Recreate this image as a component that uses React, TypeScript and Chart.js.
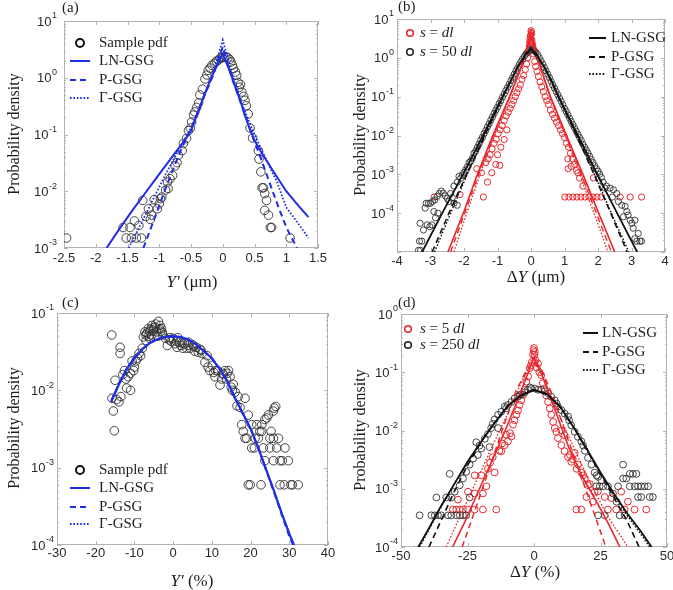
import React, { useEffect, useRef } from "react";
import { Chart, registerables } from "chart.js";

Chart.register(...registerables);

type Pt = [number, number];
type Part = { t: string; i?: boolean };

// ---------- (a) sample pdf of Y' (µm) and fitted GSG models ----------
const aSample: Pt[] = [
  [-2.46, 1.5e-3], [-1.57, 2.3e-3], [-1.52, 1.5e-3], [-1.46, 2.3e-3], [-1.44, 1.5e-3],
  [-1.39, 3.0e-3], [-1.36, 1.5e-3], [-1.32, 2.5e-3], [-1.28, 1.5e-3], [-1.26, 6.9e-3],
  [-1.21, 3.6e-3], [-1.17, 4.9e-3], [-1.14, 3.2e-3], [-1.12, 3.8e-3], [-1.08, 7.1e-3],
  [-1.03, 4.9e-3], [-1.0, 6.0e-3], [-0.98, 7.4e-3], [-0.96, 7.9e-3], [-0.9, 1.05e-2],
  [-0.87, 1.45e-2], [-0.86, 1.12e-2], [-0.83, 1.66e-2], [-0.79, 1.9e-2], [-0.75, 2.8e-2],
  [-0.72, 3.2e-2], [-0.7, 4.3e-2], [-0.64, 5.2e-2], [-0.62, 6.9e-2], [-0.57, 8.5e-2],
  [-0.54, 0.117], [-0.51, 0.13], [-0.49, 0.166], [-0.46, 0.22], [-0.44, 0.25],
  [-0.41, 0.3], [-0.38, 0.36], [-0.36, 0.5], [-0.32, 0.63], [-0.28, 0.95],
  [-0.25, 1.12], [-0.23, 1.35], [-0.2, 1.48], [-0.17, 1.66], [-0.13, 1.8],
  [-0.1, 1.95], [-0.07, 2.05], [-0.04, 2.2], [-0.01, 2.25], [0.02, 2.3],
  [0.05, 2.35], [0.08, 2.25], [0.11, 2.1], [0.13, 1.9], [0.15, 1.66],
  [0.17, 1.45], [0.2, 1.26], [0.22, 1.1], [0.24, 0.83], [0.26, 0.68],
  [0.28, 0.76], [0.3, 0.56], [0.33, 0.47], [0.35, 0.4], [0.37, 0.32],
  [0.4, 0.23], [0.43, 0.13], [0.47, 0.087], [0.56, 0.052], [0.57, 0.037],
  [0.6, 0.022], [0.62, 0.0115], [0.64, 0.0115], [0.66, 0.0091], [0.69, 0.0069],
  [0.66, 0.0046], [0.72, 0.0038], [0.75, 0.0023], [0.77, 0.0023], [1.06, 0.0015],
];
const aLN: Pt[] = [
  [-1.83, 1.0e-3], [-1.6, 2.4e-3], [-1.4, 5.0e-3], [-1.2, 1.0e-2], [-1.0, 2.0e-2],
  [-0.8, 4.0e-2], [-0.6, 7.9e-2], [-0.5, 0.117], [-0.4, 0.23], [-0.3, 0.47],
  [-0.2, 0.89], [-0.1, 1.58], [0, 2.6], [0.1, 1.4], [0.2, 0.69], [0.3, 0.33],
  [0.4, 0.15], [0.5, 0.079], [0.6, 0.05], [0.8, 0.022], [1.0, 0.01], [1.2, 5.4e-3],
  [1.35, 3.5e-3],
];
const aP: Pt[] = [
  [-1.25, 1.0e-3], [-1.1, 2.8e-3], [-0.95, 7.9e-3], [-0.8, 0.022], [-0.65, 0.056],
  [-0.5, 0.126], [-0.3, 0.45], [-0.15, 1.12], [0, 3.5], [0.15, 0.95], [0.3, 0.32],
  [0.45, 0.105], [0.6, 0.038], [0.77, 0.0112], [0.9, 4.5e-3], [1.01, 2.2e-3],
  [1.17, 1.0e-3],
];
const aG: Pt[] = [
  [-1.48, 1.0e-3], [-1.3, 2.5e-3], [-1.1, 7.1e-3], [-0.9, 0.02], [-0.7, 0.052],
  [-0.5, 0.13], [-0.3, 0.45], [-0.15, 1.2], [0, 4.6], [0.15, 1.12], [0.3, 0.35],
  [0.5, 0.1], [0.7, 0.033], [0.85, 0.015], [1.0, 5.2e-3], [1.2, 2.6e-3], [1.35, 1.5e-3],
];
const aXTicks = [-2.5, -2, -1.5, -1, -0.5, 0, 0.5, 1, 1.5];
const aXLabels = ["-2.5", "-2", "-1.5", "-1", "-0.5", "0", "0.5", "1", "1.5"];

// ---------- (b) increments ΔY (µm), s = dl (red) and s = 50 dl (black) ----------
const bRedSample: Pt[] = [
  [0, 5.0], [0.01, 4.6], [0.02, 4.2], [-0.01, 3.9], [-0.02, 3.5], [0.0, 3.2], [-0.03, 3.0],
  [0.03, 2.8], [-0.04, 2.5], [0.04, 2.3], [0.05, 2.0], [-0.05, 2.0], [0.06, 1.8],
  [-0.06, 1.58], [0.08, 1.26], [-0.1, 1.0], [0.11, 0.8], [-0.13, 0.7], [0.14, 0.6],
  [-0.17, 0.5], [0.18, 0.45], [-0.22, 0.35], [0.22, 0.33], [-0.27, 0.28], [0.27, 0.24],
  [-0.32, 0.2], [0.32, 0.18], [-0.37, 0.16], [0.37, 0.135], [-0.42, 0.126], [0.42, 0.1],
  [-0.47, 0.1], [0.47, 0.079], [-0.52, 0.079], [0.52, 0.063], [-0.57, 0.063], [0.58, 0.045],
  [-0.62, 0.05], [0.64, 0.035], [-0.68, 0.04], [0.7, 0.028], [-0.74, 0.032], [0.76, 0.022],
  [-0.8, 0.024], [0.82, 0.018], [-0.86, 0.018], [0.88, 0.014], [-0.92, 0.014], [0.94, 0.0112],
  [-0.98, 0.0112], [1.0, 0.0089], [-1.04, 0.0079], [1.06, 0.0063], [-1.1, 0.0063],
  [1.12, 0.005], [-1.16, 0.0045], [1.18, 0.0035], [-1.22, 0.0032], [1.24, 0.0025],
  [-1.28, 0.0025], [1.3, 0.0018], [1.36, 0.00126], [1.1, 0.0025], [1.11, 0.0014],
  [-0.72, 0.014], [-0.8, 0.0079], [-0.9, 0.005], [-1.0, 0.0032], [-1.05, 0.0018],
  [-1.17, 0.0011], [-1.3, 6.3e-4], [-1.35, 0.002], [-1.48, 0.0011], [-1.62, 0.0014],
  [-0.93, 0.0017], [-1.42, 2.6e-4], [-2.12, 3.0e-4], [-2.89, 2.6e-4],
  [1.45, 8.0e-4], [1.55, 5.0e-4], [1.86, 8.1e-4], [1.2, 0.0016], [1.4, 0.0011],
  [1.01, 2.6e-4], [1.13, 2.6e-4], [1.25, 2.6e-4], [1.37, 2.6e-4], [1.49, 2.6e-4],
  [1.61, 2.6e-4], [1.73, 2.6e-4], [1.85, 2.6e-4], [1.97, 2.6e-4], [2.09, 2.6e-4],
  [2.66, 2.6e-4], [2.96, 2.6e-4], [3.3, 2.6e-4],
];
const bBlackSample: Pt[] = [
  [-2.3, 5.0e-4], [-2.2, 6.3e-4], [-2.1, 7.9e-4], [-2.0, 1.12e-3], [-1.9, 1.58e-3],
  [-1.8, 2.2e-3], [-1.7, 3.5e-3], [-1.6, 5.0e-3], [-1.5, 7.6e-3], [-1.4, 0.0112],
  [-1.3, 0.0166], [-1.2, 0.025], [-1.1, 0.037], [-1.0, 0.054], [-0.9, 0.079],
  [-0.8, 0.117], [-0.7, 0.174], [-0.6, 0.26], [-0.5, 0.38], [-0.4, 0.55], [-0.3, 0.79],
  [-0.2, 1.1], [-0.1, 1.41], [0, 1.62], [0.1, 1.51], [0.2, 1.2], [0.3, 0.83], [0.4, 0.56],
  [0.5, 0.38], [0.6, 0.25], [0.7, 0.166], [0.8, 0.112], [0.9, 0.076], [1.0, 0.05],
  [1.1, 0.034], [1.2, 0.023], [1.3, 0.0158], [1.4, 0.0107], [1.5, 0.0074], [1.6, 0.005],
  [1.7, 0.0035], [1.8, 0.0024], [1.9, 0.00166], [2.0, 0.0012], [2.1, 8.3e-4],
  [-2.15, 8.9e-4], [-2.05, 9.5e-4], [-1.95, 1.3e-3], [-1.85, 2.0e-3], [-1.75, 2.6e-3],
  [-1.65, 4.0e-3], [-1.55, 6.0e-3], [-1.45, 9.0e-3], [-1.35, 0.0135], [-1.25, 0.02],
  [-1.15, 0.03], [-1.05, 0.045], [-0.95, 0.066], [-0.85, 0.097], [-0.75, 0.145],
  [-0.65, 0.21], [-0.55, 0.31], [-0.45, 0.46], [-0.35, 0.66], [-0.25, 0.93], [-0.15, 1.26],
  [-0.05, 1.55], [0.05, 1.6], [0.15, 1.38], [0.25, 1.0], [0.35, 0.69], [0.45, 0.46],
  [0.55, 0.31], [0.65, 0.2], [0.75, 0.135], [0.85, 0.092], [0.95, 0.062], [1.05, 0.042],
  [1.15, 0.028], [1.25, 0.019], [1.35, 0.013], [1.45, 0.0089], [1.55, 0.006],
  [1.65, 0.0042], [1.75, 0.0029], [1.85, 0.002], [1.95, 0.0014], [2.05, 0.001],
  [-3.36, 1.1e-5], [-3.3, 1.1e-5], [-3.26, 1.9e-5], [-3.33, 1.9e-5], [-3.31, 5.5e-5],
  [-3.21, 3.7e-5], [-3.16, 1.35e-4], [-3.1, 5.0e-5], [-3.13, 1.8e-4], [-3.06, 1.8e-4],
  [-3.02, 4.5e-5], [-3.0, 1.8e-4], [-2.96, 5.0e-5], [-2.94, 2.0e-4], [-2.87, 2.2e-4],
  [-2.8, 2.7e-4], [-2.74, 3.2e-4], [-2.68, 3.7e-4], [-2.62, 3.3e-4], [-2.56, 2.8e-4],
  [-2.5, 2.4e-4], [-2.45, 2.0e-4], [-2.4, 3.2e-4], [-2.35, 2.5e-4], [-2.3, 1.8e-4],
  [-2.2, 1.6e-4], [-2.78, 1.0e-4], [-2.9, 1.1e-4], [-2.85, 7.6e-5],
  [2.15, 6.3e-4], [2.25, 5.0e-4], [2.21, 4.4e-4], [2.36, 4.4e-4], [2.46, 4.0e-4],
  [2.56, 3.2e-4], [2.43, 2.6e-4], [2.61, 2.0e-4], [2.71, 1.6e-4], [2.81, 1.5e-4],
  [2.86, 1.1e-4], [2.76, 8.1e-5], [2.9, 8.9e-5], [2.96, 6.6e-5], [3.01, 5.5e-5],
  [3.1, 6.6e-5], [3.05, 4.1e-5], [3.2, 3.0e-5], [3.25, 1.9e-5], [3.16, 1.9e-5],
  [3.3, 1.9e-5], [3.1, 2.2e-5],
];
const bBlackLN: Pt[] = [
  [-3.25, 1e-5], [-2.65, 1e-4], [-2.03, 1e-3], [-1.43, 1e-2], [-0.85, 0.1], [-0.6, 0.26],
  [-0.4, 0.56], [-0.15, 1.32], [0, 1.7], [0.15, 1.32], [0.4, 0.56], [0.62, 0.25],
  [0.82, 0.1], [1.4, 1e-2], [1.98, 1e-3], [2.57, 1e-4], [3.17, 1e-5],
];
const bBlackP: Pt[] = [
  [-2.95, 1e-5], [-2.45, 1e-4], [-1.92, 1e-3], [-1.38, 1e-2], [-0.84, 0.1], [-0.4, 0.58],
  [0, 1.74], [0.4, 0.58], [0.82, 0.1], [1.36, 1e-2], [1.88, 1e-3], [2.38, 1e-4], [2.87, 1e-5],
];
const bBlackG: Pt[] = [
  [-2.88, 1e-5], [-2.4, 1e-4], [-1.9, 1e-3], [-1.38, 1e-2], [-0.83, 0.1], [-0.4, 0.6],
  [0, 1.82], [0.4, 0.6], [0.82, 0.1], [1.37, 1e-2], [1.9, 1e-3], [2.4, 1e-4], [2.92, 1e-5],
];
const bRedLN: Pt[] = [
  [-2.48, 1e-5], [-2.02, 1e-4], [-1.6, 1e-3], [-1.14, 1e-2], [-0.64, 0.1], [-0.3, 0.56],
  [0, 3.5], [0.3, 0.52], [0.58, 0.1], [1.06, 1e-2], [1.55, 1e-3], [2.02, 1e-4], [2.5, 1e-5],
];
const bRedP: Pt[] = [
  [-2.4, 1e-5], [-1.98, 1e-4], [-1.56, 1e-3], [-1.12, 1e-2], [-0.63, 0.1], [-0.28, 0.6],
  [0, 4.5], [0.28, 0.56], [0.57, 0.1], [1.04, 1e-2], [1.5, 1e-3], [1.95, 1e-4], [2.4, 1e-5],
];
const bRedG: Pt[] = [
  [-2.3, 1e-5], [-1.92, 1e-4], [-1.52, 1e-3], [-1.1, 1e-2], [-0.62, 0.1], [-0.27, 0.63],
  [0, 5.6], [0.27, 0.6], [0.56, 0.1], [1.02, 1e-2], [1.45, 1e-3], [1.88, 1e-4], [2.3, 1e-5],
];
const bXTicks = [-4, -3, -2, -1, 0, 1, 2, 3, 4];
const bXLabels = ["-4", "-3", "-2", "-1", "0", "1", "2", "3", "4"];

// ---------- (c) sample pdf of Y' (%) ----------
const cSample: Pt[] = [
  [-15.87, 0.052], [-15.8, 7.9e-3], [-15.45, 5.4e-3], [-15.2, 3.0e-3], [-15.0, 0.0135],
  [-14.6, 7.6e-3], [-13.7, 0.036], [-13.7, 0.03], [-14.0, 7.1e-3], [-13.5, 8.3e-3],
  [-13.0, 0.016], [-12.6, 0.018], [-12.2, 0.014], [-12.0, 0.0107], [-11.6, 0.015],
  [-11.0, 0.01], [-11.0, 0.0166], [-10.6, 0.024], [-10.2, 0.018], [-10.0, 0.02],
  [-9.6, 0.024], [-9.2, 0.026], [-8.8, 0.03], [-8.4, 0.028], [-8.0, 0.035], [-7.7, 0.049],
  [-7.3, 0.057], [-7.0, 0.044], [-6.4, 0.063], [-6.0, 0.047], [-5.5, 0.069], [-5.1, 0.06],
  [-4.7, 0.066], [-4.25, 0.057], [-3.8, 0.078], [-3.4, 0.069], [-3.0, 0.063], [-2.6, 0.052],
  [-5.5, 0.052], [-6.8, 0.055], [-4.0, 0.05], [-2.0, 0.047], [-1.5, 0.038], [-1.0, 0.045],
  [-0.5, 0.043], [0, 0.047], [0.5, 0.04], [1.0, 0.036], [1.5, 0.042], [2.0, 0.038],
  [2.5, 0.035], [3.0, 0.04], [3.5, 0.035], [4.0, 0.042], [4.4, 0.035], [5.0, 0.039],
  [5.6, 0.032], [6.0, 0.036], [6.9, 0.034], [7.5, 0.03], [8.2, 0.023], [8.8, 0.028],
  [9.5, 0.018], [10.1, 0.021], [10.8, 0.015], [11.5, 0.018], [12.1, 0.0117], [12.8, 0.0166],
  [13.4, 0.018], [14.0, 0.0166], [14.7, 0.015], [15.3, 0.01], [15.5, 0.012], [16.0, 0.0095],
  [16.5, 0.0063], [17.3, 0.006], [16.8, 0.0083], [18.57, 0.0079], [19.4, 0.0048],
  [-7.0, 0.052], [-6.0, 0.058], [-5.0, 0.064], [-4.5, 0.072], [-3.5, 0.062], [-3.2, 0.058],
  [-2.8, 0.056], [-6.3, 0.05], [-5.8, 0.062], [0.8, 0.043], [2.3, 0.041], [3.8, 0.038],
  [5.3, 0.037], [6.5, 0.031], [7.2, 0.033], [1.2, 0.048], [-0.8, 0.048], [9.0, 0.02],
  [10.5, 0.017], [11.0, 0.018], [12.5, 0.014], [13.0, 0.016], [13.8, 0.014], [14.3, 0.018],
  [15.0, 0.011],
  [17.7, 3.6e-3], [20.3, 3.6e-3], [21.6, 3.6e-3], [22.9, 3.6e-3], [18.1, 2.95e-3],
  [22.4, 2.95e-3], [22.9, 2.95e-3], [25.3, 2.95e-3], [18.57, 2.4e-3], [19.0, 2.4e-3],
  [21.15, 2.4e-3], [22.0, 2.4e-3], [25.0, 2.4e-3], [25.9, 2.4e-3], [27.2, 2.4e-3],
  [20.3, 1.8e-3], [21.0, 1.8e-3], [23.3, 1.8e-3], [25.0, 1.8e-3], [26.75, 1.8e-3],
  [28.9, 1.8e-3], [23.7, 1.23e-3], [25.9, 1.23e-3], [27.6, 1.23e-3], [28.2, 1.23e-3],
  [29.75, 1.23e-3], [19.4, 6.0e-4], [19.9, 6.0e-4], [22.7, 6.0e-4], [27.6, 6.0e-4],
  [28.7, 6.0e-4], [30.4, 6.0e-4], [30.8, 6.0e-4], [32.3, 6.0e-4],
  [23.7, 4.2e-3], [24.2, 4.4e-3], [24.6, 4.8e-3], [25.9, 5.4e-3], [26.1, 5.9e-3], [26.5, 6.2e-3],
];
const cLN: Pt[] = [
  [-16, 7.1e-3], [-14, 1.2e-2], [-12, 1.9e-2], [-10, 2.6e-2], [-8, 3.4e-2], [-6, 4.1e-2],
  [-4, 4.6e-2], [-2, 4.9e-2], [0, 5.0e-2], [2, 4.9e-2], [4, 4.5e-2], [6, 3.9e-2],
  [8, 3.2e-2], [10, 2.6e-2], [12, 1.9e-2], [14, 1.3e-2], [16, 7.9e-3], [18, 5.0e-3],
  [20, 3.2e-3], [22, 1.8e-3], [24, 9.5e-4], [26, 5.1e-4], [28, 2.6e-4], [30, 1.4e-4],
  [31.2, 1.0e-4],
];
const cP: Pt[] = [
  [-16, 7.2e-3], [-14, 1.2e-2], [-12, 1.9e-2], [-10, 2.6e-2], [-8, 3.4e-2], [-6, 4.1e-2],
  [-4, 4.6e-2], [-2, 4.9e-2], [0, 5.0e-2], [2, 4.9e-2], [4, 4.5e-2], [6, 3.9e-2],
  [8, 3.2e-2], [10, 2.6e-2], [12, 1.9e-2], [14, 1.3e-2], [16, 7.9e-3], [18, 5.0e-3],
  [20, 3.2e-3], [22, 1.8e-3], [24, 9.3e-4], [26, 4.9e-4], [28, 2.5e-4], [30, 1.3e-4],
  [31.0, 1.0e-4],
];
const cG: Pt[] = [
  [-16, 7.6e-3], [-14, 1.2e-2], [-12, 1.9e-2], [-10, 2.6e-2], [-8, 3.4e-2], [-6, 4.1e-2],
  [-4, 4.6e-2], [-2, 4.9e-2], [0, 5.0e-2], [2, 4.9e-2], [4, 4.5e-2], [6, 3.9e-2],
  [8, 3.2e-2], [10, 2.6e-2], [12, 1.9e-2], [14, 1.3e-2], [16, 7.9e-3], [18, 5.0e-3],
  [20, 3.2e-3], [22, 1.8e-3], [24, 9.5e-4], [26, 5.1e-4], [28, 2.6e-4], [30, 1.4e-4],
  [31.2, 1.0e-4],
];
const cXTicks = [-30, -20, -10, 0, 10, 20, 30, 40];
const cXLabels = ["-30", "-20", "-10", "0", "10", "20", "30", "40"];

// ---------- (d) increments ΔY (%), s = 5 dl (red) and s = 250 dl (black) ----------
const dRedSample: Pt[] = [
  [0, 0.26], [-0.4, 0.2], [0.3, 0.224], [0.2, 0.2], [-0.2, 0.24], [0.6, 0.16], [-0.8, 0.15],
  [-1.2, 0.13], [1.0, 0.12], [-1.6, 0.117], [1.5, 0.141], [-2.2, 0.085], [2.0, 0.1],
  [-2.9, 0.069], [2.7, 0.089], [-3.5, 0.05], [3.3, 0.065], [-4.1, 0.041], [4.0, 0.052],
  [-4.8, 0.033], [4.6, 0.04], [-5.4, 0.0275], [5.3, 0.031], [-6.0, 0.022], [5.9, 0.024],
  [-6.6, 0.0186], [6.5, 0.0186], [-7.3, 0.015], [7.2, 0.014], [-7.9, 0.0126], [7.8, 0.011],
  [-8.5, 0.0079], [8.4, 0.0095], [-9.0, 0.009], [9.0, 0.0074], [-9.8, 0.0065], [10.3, 0.0056],
  [10.3, 0.01], [11.5, 0.0083], [-10.5, 0.0085], [-11.0, 0.0056], [11.5, 0.0044],
  [-12.0, 0.006], [-12.3, 0.0044], [12.8, 0.0035], [-13.0, 0.0045], [13.5, 0.0038],
  [14.0, 0.0029], [14.6, 0.0032], [15.3, 0.0041], [-15.5, 0.0035], [16.0, 0.0022],
  [16.5, 0.0026], [-16.5, 0.0028], [17.8, 0.0019], [18.5, 0.0017], [19.1, 0.0015],
  [20.3, 0.00115], [21.0, 0.0012], [22.8, 8.9e-4], [24.0, 9.0e-4], [19.7, 7.2e-4],
  [22.2, 6.0e-4], [26.6, 7.2e-4], [29.1, 6.9e-4], [32.8, 8.9e-4], [35.3, 6.0e-4],
  [-14.8, 0.0019], [-17.3, 0.0022], [-19.8, 0.0017], [-22.3, 0.0017], [-17.9, 0.0011],
  [-19.2, 8.3e-4], [-22.3, 8.3e-4], [-24.8, 8.9e-4], [-28.6, 6.5e-4], [-14.2, 4.4e-4],
  [-30.5, 4.4e-4], [-29.2, 4.4e-4], [-27.9, 4.4e-4], [-26.7, 4.4e-4], [-24.8, 4.4e-4],
  [-22.3, 4.4e-4], [-19.2, 4.4e-4], [15.9, 4.4e-4], [17.8, 4.4e-4], [27.8, 4.4e-4],
  [30.9, 4.4e-4], [34.1, 4.4e-4], [37.8, 4.4e-4], [42.2, 4.4e-4],
];
const dBlackSample: Pt[] = [
  [-31.7, 1.8e-3], [-29.8, 8.9e-4], [-27.9, 1.15e-3], [-26.7, 1.5e-3], [-25.5, 1.95e-3],
  [-24.2, 2.6e-3], [-22.9, 3.3e-3], [-21.7, 6.3e-3], [-21.1, 3.8e-3], [-20.5, 5.5e-3],
  [-19.8, 4.9e-3], [-18.5, 7.2e-3], [-17.3, 8.7e-3], [-16.7, 5.2e-3], [-16.1, 0.011],
  [-15.5, 0.013], [-14.8, 0.0155], [-13.5, 0.0186], [-13.5, 0.011], [-12.3, 0.021],
  [-11.0, 0.0257], [-10.5, 0.024], [-9.8, 0.0275], [-8.5, 0.031], [-7.3, 0.0355],
  [-6.0, 0.038], [-5.5, 0.04], [-4.8, 0.042], [-3.5, 0.045], [-2.3, 0.05], [-1.5, 0.055],
  [-1.0, 0.0525], [0.3, 0.0525], [1.5, 0.05], [2.7, 0.05], [4.0, 0.047], [5.3, 0.0437],
  [6.5, 0.038], [7.8, 0.033], [8.5, 0.029], [9.0, 0.0257], [10.3, 0.0224], [11.5, 0.0195],
  [12.8, 0.0174], [13.2, 0.015], [14.0, 0.0123], [15.3, 0.0095], [16.5, 0.0078],
  [17.8, 0.0065], [18.5, 0.0055], [19.1, 0.0045], [20.3, 0.0034], [21.6, 0.0026],
  [22.8, 0.0019], [23.5, 0.0017], [24.1, 0.0016], [25.3, 0.0014], [27.8, 0.0011],
  [29.7, 8.3e-4], [31.0, 6.0e-4],
  [-43.0, 3.5e-4], [-38.6, 3.5e-4], [-37.3, 3.5e-4], [-36.1, 3.5e-4], [-34.8, 3.5e-4],
  [-32.3, 3.5e-4], [-31.1, 3.5e-4], [-29.2, 3.5e-4], [-27.9, 3.5e-4], [-26.7, 3.5e-4],
  [-25.5, 3.5e-4], [-36.7, 7.1e-4], [-33.0, 7.1e-4], [-31.1, 7.1e-4], [-24.2, 7.1e-4],
  [33.5, 2.6e-3], [33.5, 1.5e-3], [34.7, 1.5e-3], [36.0, 1.8e-3], [37.2, 1.8e-3],
  [38.5, 1.8e-3], [39.1, 1.1e-3], [40.3, 1.1e-3], [41.6, 1.1e-3], [42.9, 1.1e-3],
  [44.7, 7.2e-4], [43.5, 7.2e-4], [39.1, 7.2e-4], [40.3, 7.2e-4], [36.0, 1.1e-3],
  [37.9, 1.1e-3], [31.6, 1.1e-3], [26.0, 1.1e-3], [24.7, 1.1e-3], [23.4, 1.1e-3],
  [24.1, 3.5e-4], [26.6, 3.5e-4], [32.2, 3.5e-4], [34.1, 3.5e-4],
];
const dBlackLN: Pt[] = [
  [-43.5, 1.0e-4], [-40, 1.9e-4], [-35, 5.0e-4], [-30, 1.2e-3], [-25, 2.9e-3], [-20, 6.3e-3],
  [-15, 0.0132], [-10, 0.026], [-5, 0.04], [0, 0.05], [5, 0.042], [10, 0.025], [15, 0.0112],
  [20, 4.7e-3], [25, 1.9e-3], [30, 8.3e-4], [35, 3.8e-4], [40, 1.9e-4], [44.2, 1.0e-4],
];
const dBlackP: Pt[] = [
  [-39.5, 1.0e-4], [-35, 2.8e-4], [-30, 8.9e-4], [-25, 2.5e-3], [-20, 6.3e-3], [-15, 0.0132],
  [-10, 0.026], [-5, 0.04], [0, 0.05], [5, 0.042], [10, 0.025], [15, 0.0112], [20, 4.5e-3],
  [25, 1.8e-3], [30, 7.1e-4], [35, 2.8e-4], [39.5, 1.0e-4],
];
const dBlackG: Pt[] = [
  [-43, 1.0e-4], [-40, 1.8e-4], [-35, 4.8e-4], [-30, 1.2e-3], [-25, 2.8e-3], [-20, 6.3e-3],
  [-15, 0.0132], [-10, 0.026], [-5, 0.04], [0, 0.05], [5, 0.042], [10, 0.025], [15, 0.0112],
  [20, 4.6e-3], [25, 1.85e-3], [30, 7.9e-4], [35, 3.5e-4], [40, 1.7e-4], [43.5, 1.0e-4],
];
const dRedLN: Pt[] = [
  [-30.6, 1.0e-4], [-26, 2.7e-4], [-21, 8.9e-4], [-16, 2.9e-3], [-11, 9.5e-3], [-6, 0.035],
  [-3, 0.079], [0, 0.178], [3, 0.089], [8, 0.022], [13, 5.2e-3], [18, 1.66e-3], [23, 6.6e-4],
  [28, 2.5e-4], [32.3, 1.0e-4],
];
const dRedP: Pt[] = [
  [-27, 1.0e-4], [-22, 4.5e-4], [-17, 2.1e-3], [-12, 0.01], [-7, 0.045], [-3, 0.105],
  [0, 0.15], [3, 0.105], [7, 0.04], [12, 8.9e-3], [17, 2.0e-3], [22, 4.5e-4], [27, 1.0e-4],
];
const dRedG: Pt[] = [
  [-33, 1.0e-4], [-28, 3.2e-4], [-22, 1.26e-3], [-16, 5.0e-3], [-10, 0.019], [-5, 0.063],
  [-2, 0.126], [0, 0.21], [2, 0.126], [5, 0.056], [10, 0.016], [16, 4.0e-3], [22, 1.05e-3],
  [28, 3.2e-4], [35.3, 1.0e-4],
];
const dXTicks = [-50, -25, 0, 25, 50];
const dXLabels = ["-50", "-25", "0", "25", "50"];

// ---------- styling ----------
const BLUE = "#1f2de4";
const RED = "#e8272c";
const INK = "#1e1e1e";
const RING = "rgba(45,45,45,0.88)";
const FRAME = "#b3b3b3";
const SERIF = '"Liberation Serif", "Times New Roman", serif';
const SANS = '"Liberation Sans", Arial, sans-serif';
const DASH = [6, 4];
const DOT = [1.6, 1.8];

const toXY = (d: Pt[]) => d.map(([x, y]) => ({ x, y }));

const curve = (d: Pt[], color: string, dash: number[], width: number) => ({
  data: toXY(d),
  showLine: true,
  borderColor: color,
  backgroundColor: color,
  borderWidth: width,
  borderDash: dash,
  pointRadius: 0,
  tension: 0,
  fill: false,
  order: 0,
});

const rings = (d: Pt[], color: string, r: number) => ({
  data: toXY(d),
  showLine: false,
  pointStyle: "circle",
  pointRadius: r,
  pointBorderWidth: 1,
  pointBorderColor: color,
  pointBackgroundColor: "rgba(0,0,0,0)",
  borderColor: color,
  backgroundColor: "rgba(0,0,0,0)",
  order: 1,
});

interface LegendRow {
  kind: "ring" | "line";
  color: string;
  dash?: number[];
  width: number;
  radius?: number;
  parts: Part[];
  y: number;
}
interface LegendBlock {
  x0: number;
  x1: number;
  textX: number;
  size: number;
  rows: LegendRow[];
}
interface Panel {
  tag: string;
  box: [number, number, number, number];
  area: [number, number, number, number];
  xMin: number;
  xMax: number;
  xTicks: number[];
  xLabels: string[];
  xLabelY: number;
  yExpMin: number;
  yExpMax: number;
  yHidden: number[];
  yGap: number;
  xTitle: Part[];
  xTitlePos: [number, number];
  yTitlePos: [number, number];
  tagPos: [number, number];
  legends: LegendBlock[];
  sets: () => any[];
}

const fitRows = (color: string, ys: number[], x: number): LegendRow[] => [
  { kind: "line", color, width: 2, parts: [{ t: "LN-GSG" }], y: ys[0] },
  { kind: "line", color, dash: DASH, width: 2, parts: [{ t: "P-GSG" }], y: ys[1] },
  { kind: "line", color, dash: DOT, width: 2, parts: [{ t: "Γ-GSG" }], y: ys[2] },
];

const panels: Panel[] = [
  {
    tag: "(a)",
    box: [0, 0, 336, 295],
    area: [64, 21, 318, 248],
    xMin: -2.5,
    xMax: 1.5,
    xTicks: aXTicks,
    xLabels: aXLabels,
    xLabelY: 258,
    yExpMin: -3,
    yExpMax: 1,
    yHidden: [],
    yGap: 7,
    xTitle: [{ t: "Y'", i: true }, { t: " (μm)" }],
    xTitlePos: [192, 283],
    yTitlePos: [15, 134],
    tagPos: [62, 8],
    legends: [
      {
        x0: 70,
        x1: 90,
        textX: 99,
        size: 15,
        rows: [
          { kind: "ring", color: "#111", width: 2, radius: 4, parts: [{ t: "Sample pdf" }], y: 43 },
          ...fitRows(BLUE, [61, 80, 98], 0),
        ],
      },
    ],
    sets: () => [
      curve(aLN, BLUE, [], 2),
      curve(aP, BLUE, DASH, 2),
      curve(aG, BLUE, DOT, 1.8),
      rings(aSample, RING, 4.3),
    ],
  },
  {
    tag: "(b)",
    box: [336, 0, 354, 295],
    area: [397, 19, 665, 252],
    xMin: -4,
    xMax: 4,
    xTicks: bXTicks,
    xLabels: bXLabels,
    xLabelY: 261,
    yExpMin: -5,
    yExpMax: 1,
    yHidden: [-5],
    yGap: 3,
    xTitle: [{ t: "Δ" }, { t: "Y", i: true }, { t: " (μm)" }],
    xTitlePos: [536, 278],
    yTitlePos: [361, 135],
    tagPos: [398, 7],
    legends: [
      {
        x0: 406,
        x1: 414,
        textX: 420,
        size: 15,
        rows: [
          { kind: "ring", color: RED, width: 1.6, radius: 3.3, parts: [{ t: "s", i: true }, { t: " = " }, { t: "dl", i: true }], y: 33 },
          { kind: "ring", color: "#222", width: 1.6, radius: 3.3, parts: [{ t: "s", i: true }, { t: " = 50 " }, { t: "dl", i: true }], y: 52 },
        ],
      },
      { x0: 589, x1: 606, textX: 611, size: 15, rows: fitRows("#111", [38, 57, 74], 0) },
    ],
    sets: () => [
      curve(bBlackLN, "#111", [], 1.8),
      curve(bBlackP, "#111", DASH, 1.6),
      curve(bBlackG, "#111", DOT, 1.4),
      curve(bRedLN, RED, [], 1.6),
      curve(bRedP, RED, DASH, 1.4),
      curve(bRedG, RED, DOT, 1.3),
      rings(bBlackSample, RING, 3.1),
      rings(bRedSample, RED, 3.1),
    ],
  },
  {
    tag: "(c)",
    box: [0, 295, 336, 295],
    area: [57, 313, 328, 545],
    xMin: -30,
    xMax: 40,
    xTicks: cXTicks,
    xLabels: cXLabels,
    xLabelY: 553,
    yExpMin: -4,
    yExpMax: -1,
    yHidden: [],
    yGap: 3,
    xTitle: [{ t: "Y'", i: true }, { t: " (%)" }],
    xTitlePos: [192, 582],
    yTitlePos: [15, 428],
    tagPos: [62, 303],
    legends: [
      {
        x0: 70,
        x1: 90,
        textX: 99,
        size: 15,
        rows: [
          { kind: "ring", color: "#111", width: 2, radius: 4, parts: [{ t: "Sample pdf" }], y: 470 },
          ...fitRows(BLUE, [488, 507, 524], 0),
        ],
      },
    ],
    sets: () => [
      curve(cLN, BLUE, [], 2.2),
      curve(cP, BLUE, DASH, 2),
      curve(cG, BLUE, DOT, 1.8),
      rings(cSample, RING, 4.3),
    ],
  },
  {
    tag: "(d)",
    box: [336, 295, 354, 295],
    area: [401, 314, 667, 547],
    xMin: -50,
    xMax: 50,
    xTicks: dXTicks,
    xLabels: dXLabels,
    xLabelY: 556,
    yExpMin: -4,
    yExpMax: 0,
    yHidden: [],
    yGap: 3,
    xTitle: [{ t: "Δ" }, { t: "Y", i: true }, { t: " (%)" }],
    xTitlePos: [535, 573],
    yTitlePos: [361, 430],
    tagPos: [398, 303],
    legends: [
      {
        x0: 404,
        x1: 412,
        textX: 420,
        size: 15,
        rows: [
          { kind: "ring", color: RED, width: 1.6, radius: 3.3, parts: [{ t: "s", i: true }, { t: " = 5 " }, { t: "dl", i: true }], y: 329 },
          { kind: "ring", color: "#222", width: 1.6, radius: 3.3, parts: [{ t: "s", i: true }, { t: " = 250 " }, { t: "dl", i: true }], y: 345 },
        ],
      },
      { x0: 583, x1: 598, textX: 602, size: 15, rows: fitRows("#111", [333, 352, 370], 0) },
    ],
    sets: () => [
      curve(dBlackLN, "#111", [], 1.8),
      curve(dBlackP, "#111", DASH, 1.6),
      curve(dBlackG, "#111", DOT, 1.4),
      curve(dRedLN, RED, [], 1.6),
      curve(dRedP, RED, DASH, 1.5),
      curve(dRedG, RED, DOT, 1.3),
      rings(dBlackSample, RING, 3.4),
      rings(dRedSample, RED, 3.4),
    ],
  },
];

const serifFont = (size: number, italic?: boolean) => `${italic ? "italic " : ""}${size}px ${SERIF}`;

function partsWidth(ctx: CanvasRenderingContext2D, parts: Part[], size: number) {
  let w = 0;
  for (const p of parts) {
    ctx.font = serifFont(size, p.i);
    w += ctx.measureText(p.t).width;
  }
  return w;
}

function drawParts(ctx: CanvasRenderingContext2D, parts: Part[], size: number, x: number, y: number) {
  ctx.textAlign = "left";
  ctx.textBaseline = "middle";
  let cx = x;
  for (const p of parts) {
    ctx.font = serifFont(size, p.i);
    ctx.fillText(p.t, cx, y);
    cx += ctx.measureText(p.t).width;
  }
}

// Frame, inward ticks, tick labels, titles and legends of one panel.
function makeDecor(p: Panel) {
  const ox = p.box[0];
  const oy = p.box[1];
  return {
    id: "decor",
    beforeDatasetsDraw(chart: any) {
      const ctx: CanvasRenderingContext2D = chart.ctx;
      const a = chart.chartArea;
      const xs = chart.scales.x;
      const ys = chart.scales.y;
      ctx.save();
      ctx.strokeStyle = FRAME;
      ctx.lineWidth = 1;
      ctx.strokeRect(a.left + 0.5, a.top + 0.5, a.right - a.left - 1, a.bottom - a.top - 1);
      ctx.beginPath();
      for (const v of p.xTicks) {
        const px = Math.round(xs.getPixelForValue(v)) + 0.5;
        ctx.moveTo(px, a.bottom);
        ctx.lineTo(px, a.bottom - 4);
        ctx.moveTo(px, a.top);
        ctx.lineTo(px, a.top + 4);
      }
      for (let e = p.yExpMin; e <= p.yExpMax; e++) {
        for (let k = 1; k <= 9; k++) {
          if (e === p.yExpMax && k > 1) break;
          const py = Math.round(ys.getPixelForValue(k * Math.pow(10, e))) + 0.5;
          const len = k === 1 ? 4 : 2;
          ctx.moveTo(a.left, py);
          ctx.lineTo(a.left + len, py);
          ctx.moveTo(a.right, py);
          ctx.lineTo(a.right - len, py);
        }
      }
      ctx.stroke();
      ctx.restore();
    },
    afterDraw(chart: any) {
      const ctx: CanvasRenderingContext2D = chart.ctx;
      const a = chart.chartArea;
      const xs = chart.scales.x;
      const ys = chart.scales.y;
      ctx.save();
      ctx.fillStyle = "#2a2a2a";

      // x tick labels
      ctx.font = `13px ${SANS}`;
      ctx.textAlign = "center";
      ctx.textBaseline = "middle";
      p.xTicks.forEach((v, i) => {
        ctx.fillText(p.xLabels[i], xs.getPixelForValue(v), p.xLabelY - oy);
      });

      // y tick labels: 10 with a raised exponent
      for (let e = p.yExpMin; e <= p.yExpMax; e++) {
        if (p.yHidden.includes(e)) continue;
        const py = ys.getPixelForValue(Math.pow(10, e));
        const expText = String(e);
        ctx.font = `13px ${SANS}`;
        const wb = ctx.measureText("10").width;
        ctx.font = `9px ${SANS}`;
        const we = ctx.measureText(expText).width;
        const right = a.left - p.yGap;
        ctx.textAlign = "left";
        ctx.textBaseline = "middle";
        ctx.font = `13px ${SANS}`;
        ctx.fillText("10", right - we - wb - 0.5, py + 1);
        ctx.font = `9px ${SANS}`;
        ctx.fillText(expText, right - we, py - 5);
      }

      ctx.fillStyle = INK;
      // y title
      ctx.save();
      ctx.translate(p.yTitlePos[0] - ox, p.yTitlePos[1] - oy);
      ctx.rotate(-Math.PI / 2);
      ctx.font = serifFont(16);
      ctx.textAlign = "center";
      ctx.textBaseline = "middle";
      ctx.fillText("Probability density", 0, 0);
      ctx.restore();

      // x title
      const tw = partsWidth(ctx, p.xTitle, 17);
      drawParts(ctx, p.xTitle, 17, p.xTitlePos[0] - ox - tw / 2, p.xTitlePos[1] - oy);

      // panel tag
      drawParts(ctx, [{ t: p.tag }], 15, p.tagPos[0] - ox, p.tagPos[1] - oy);

      // legends
      for (const lg of p.legends) {
        for (const row of lg.rows) {
          const y = row.y - oy;
          ctx.save();
          ctx.strokeStyle = row.color;
          ctx.lineWidth = row.width;
          if (row.kind === "ring") {
            ctx.beginPath();
            ctx.arc((lg.x0 + lg.x1) / 2 - ox, y, row.radius || 4, 0, Math.PI * 2);
            ctx.stroke();
          } else {
            ctx.setLineDash(row.dash || []);
            ctx.beginPath();
            ctx.moveTo(lg.x0 - ox, y);
            ctx.lineTo(lg.x1 - ox, y);
            ctx.stroke();
          }
          ctx.restore();
          ctx.fillStyle = INK;
          drawParts(ctx, row.parts, lg.size, lg.textX - ox, y);
        }
      }
      ctx.restore();
    },
  };
}

function PanelChart({ p }: { p: Panel }) {
  const ref = useRef<HTMLCanvasElement>(null);
  useEffect(() => {
    const canvas = ref.current;
    if (!canvas) return;
    const [bx, by, bw, bh] = p.box;
    const [l, t, r, b] = p.area;
    const chart = new Chart(canvas, {
      type: "scatter",
      data: { datasets: p.sets() },
      options: {
        responsive: false,
        animation: false,
        devicePixelRatio: 1,
        events: [],
        layout: { padding: { left: l - bx, top: t - by, right: bx + bw - r, bottom: by + bh - b } },
        scales: {
          x: { type: "linear", display: false, min: p.xMin, max: p.xMax },
          y: { type: "logarithmic", display: false, min: Math.pow(10, p.yExpMin), max: Math.pow(10, p.yExpMax) },
        },
        plugins: { legend: { display: false }, tooltip: { enabled: false } },
      } as any,
      plugins: [makeDecor(p) as any],
    });
    return () => chart.destroy();
  }, [p]);
  return (
    <canvas
      ref={ref}
      width={p.box[2]}
      height={p.box[3]}
      style={{ position: "absolute", left: p.box[0], top: p.box[1], width: p.box[2], height: p.box[3] }}
    />
  );
}

export default function App() {
  return (
    <div
      style={{
        position: "fixed",
        left: 0,
        top: 0,
        width: 673,
        height: 590,
        overflow: "hidden",
        background: "#ffffff",
      }}
    >
      {panels.map((p) => (
        <PanelChart key={p.tag} p={p} />
      ))}
    </div>
  );
}
